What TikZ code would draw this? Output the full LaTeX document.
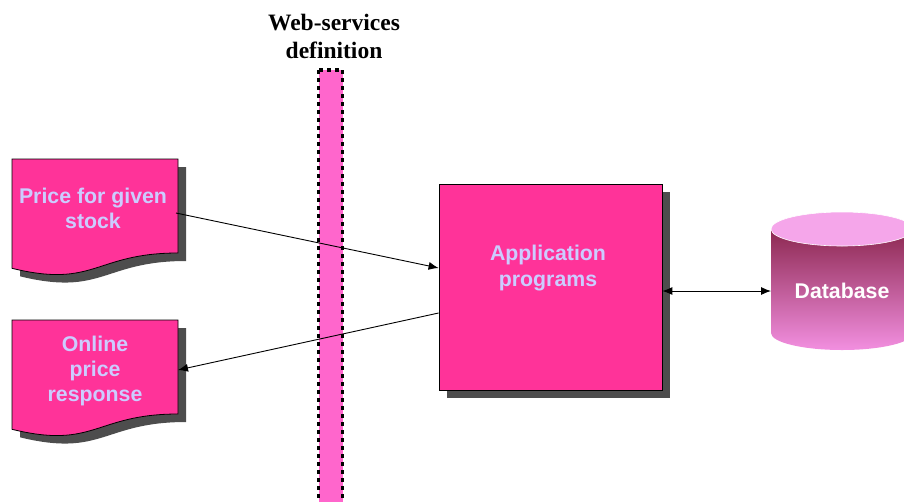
\documentclass[tikz,border=0pt]{standalone}
\usepackage{fontspec}
\setmainfont{Liberation Sans}
\newfontfamily\serifbf{Liberation Serif}
\usetikzlibrary{arrows.meta}
\definecolor{docpink}{HTML}{FF3399}
\definecolor{txtlav}{HTML}{CCCCFF}
\definecolor{shadowgray}{HTML}{4D4D4D}
\definecolor{barpink}{HTML}{FF66CC}
\definecolor{dbtop}{HTML}{F5A6EA}
\definecolor{dbdark}{HTML}{8C2850}
\definecolor{dbmid}{HTML}{C461A6}
\definecolor{dblight}{HTML}{F28FE0}
\tikzset{
  docshape/.pic={\path[pic actions] (0,0) -- (166,0) -- (166,94) .. controls (83,94) and (83,129.6) .. (0,109.3) -- cycle;}
}
\begin{document}
\begin{tikzpicture}[x=1pt,y=-1pt,
  shapefill/.style={fill=docpink,draw=black,line width=0.8pt},
  shadowfill/.style={fill=shadowgray},
  lbl/.style={font=\fontsize{21.3}{25.2}\selectfont\bfseries, text=txtlav, align=center, inner sep=0pt},
  region/.style={draw=none, inner sep=0pt, outer sep=0pt},
  conn/.style={line width=0.9pt, -{Latex[length=10pt,width=8pt]}},
  dconn/.style={line width=0.9pt, {Latex[length=10pt,width=8pt]}-{Latex[length=10pt,width=8pt]}},
  barstyle/.style={fill=barpink, draw=black, line width=3.5pt, dash pattern=on 4pt off 4pt}
]
\useasboundingbox (0,0) rectangle (904,501);
\clip (0,0) rectangle (904,501);

% title
\node[font=\serifbf\bfseries\fontsize{23.5}{28}\selectfont, align=center, inner sep=0pt] (title) at (334,36) {Web-services\\definition};

% web-services bar
\draw[barstyle] (330.5,70) ++(-12,0) rectangle ++(24,450);

% documents
\pic[shadowfill] at (20,167) {docshape};
\pic[shapefill] at (12,159) {docshape};
\node[region, lbl, minimum width=166pt, minimum height=94pt] (doc1) at (93,208) {Price for given\\stock};

\pic[shadowfill] at (20,328) {docshape};
\pic[shapefill] at (12,320) {docshape};
\node[region, lbl, minimum width=166pt, minimum height=94pt] (doc2) at (95,371) {Online\\price\\response};

% application programs
\fill[shadowfill] (447,192) rectangle (670,398);
\node[draw=black, fill=docpink, line width=0.8pt, minimum width=223pt, minimum height=206pt, inner sep=0pt] (app) at (550.5,287) {};
\node[lbl] (apptxt) at (548,268) {Application\\programs};

% database cylinder
\shade[top color=dbdark, middle color=dbmid, bottom color=dblight] (771,229) -- (771,333) arc[start angle=180, end angle=360, x radius=71pt, y radius=17pt] -- (913,229) -- cycle;
\filldraw[fill=dbtop, draw=white, line width=0.6pt] (842,229) ellipse [x radius=71pt, y radius=17pt];
\node[region, minimum width=142pt, font=\fontsize{21.3}{25}\selectfont\bfseries, text=white] (db) at (842,291) {Database};

% connectors
\draw[conn] ([yshift=-5pt]doc1.east) -- ([yshift=19pt]app.west);
\draw[conn] ([yshift=-26pt]app.west) -- ([yshift=1pt]doc2.east);
\draw[dconn] ([yshift=-4pt]app.east) -- (db.west);
\end{tikzpicture}
\end{document}
